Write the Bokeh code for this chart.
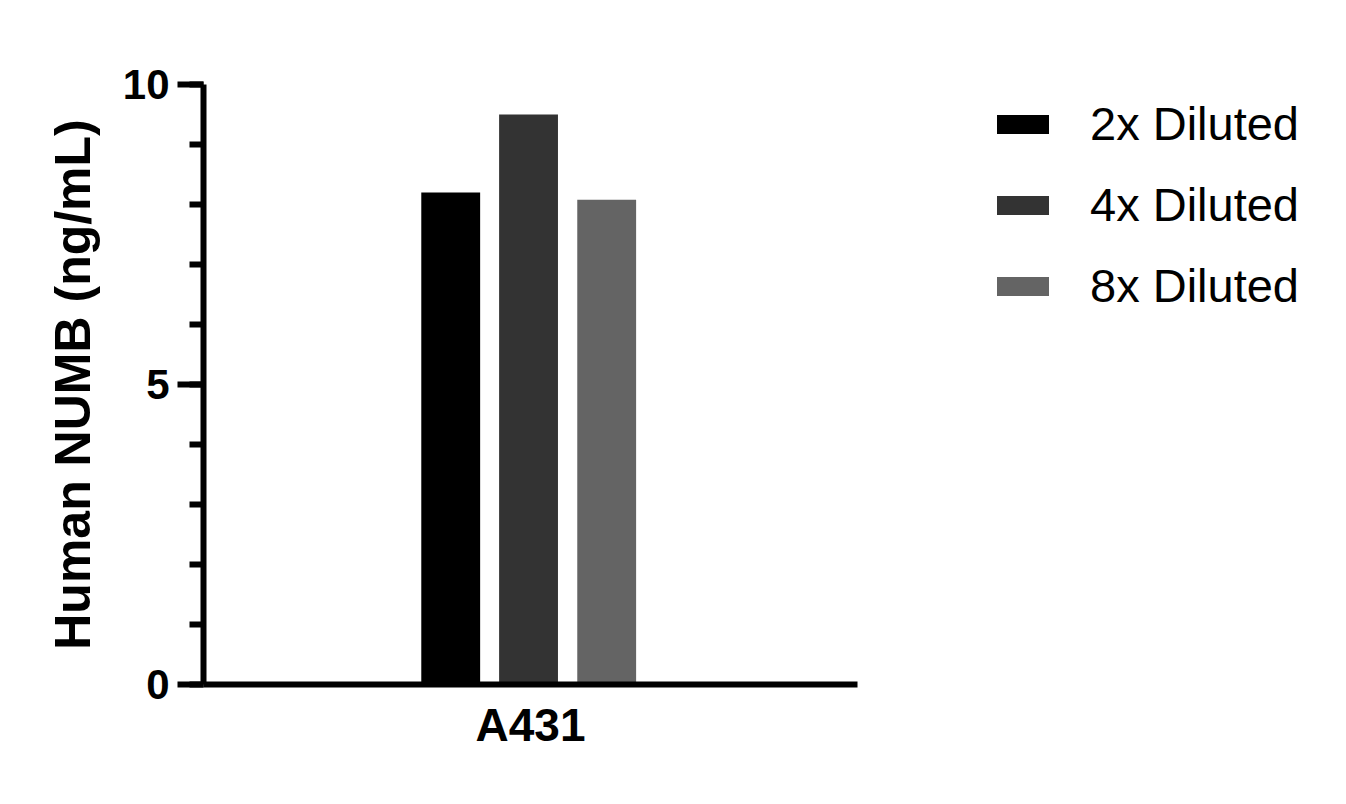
from bokeh.plotting import figure
from bokeh.models import (ColumnDataSource, FactorRange, Range1d, Legend, LegendItem,
                          SingleIntervalTicker)
from bokeh.transform import dodge
from bokeh.embed import file_html
from bokeh.resources import INLINE

categories = ["A431"]
series = ["2x Diluted", "4x Diluted", "8x Diluted"]
values_2x = [8.2]
values_4x = [9.5]
values_8x = [8.08]
colors = ["#000000", "#333333", "#646464"]
y_label = "Human NUMB (ng/mL)"

FONT = "Liberation Sans"

p = figure(x_range=FactorRange(factors=categories), y_range=Range1d(0, 10),
           frame_width=654, frame_height=600,
           min_border_left=203, min_border_top=84, min_border_right=470, min_border_bottom=110,
           output_backend="svg", toolbar_location=None, background_fill_color="white",
           border_fill_color="white")
p.outline_line_color = None
p.xgrid.visible = False
p.ygrid.visible = False

src = ColumnDataSource(dict(cat=categories, v2=values_2x, v4=values_4x, v8=values_8x))
offsets = [-0.122, -0.003, 0.1165]
renderers = []
for col, off, c in zip(["v2", "v4", "v8"], offsets, colors):
    r = p.vbar(x=dodge("cat", off, range=p.x_range), top=col, bottom=0, width=0.09,
               source=src, fill_color=c, line_color=None)
    renderers.append(r)

# y axis
ya = p.yaxis[0]
ya.ticker = SingleIntervalTicker(interval=5, num_minor_ticks=5)
ya.axis_line_width = 6
ya.major_tick_line_width = 6
ya.minor_tick_line_width = 6
ya.major_tick_out = 26
ya.major_tick_in = 0
ya.minor_tick_out = 14
ya.minor_tick_in = 0
ya.major_label_text_font = FONT
ya.major_label_text_font_style = "bold"
ya.major_label_text_font_size = "42px"
ya.major_label_text_color = "black"
ya.major_label_standoff = 8
ya.axis_label = y_label
ya.axis_label_text_font = FONT
ya.axis_label_text_font_style = "bold"
ya.axis_label_text_font_size = "50px"
ya.axis_label_text_color = "black"
ya.axis_label_standoff = 19

# x axis
xa = p.xaxis[0]
xa.axis_line_width = 6
xa.major_tick_line_color = None
xa.major_tick_out = 0
xa.major_tick_in = 0
xa.minor_tick_line_color = None
xa.major_label_text_font = FONT
xa.major_label_text_font_style = "bold"
xa.major_label_text_font_size = "46px"
xa.major_label_text_color = "black"
xa.major_label_standoff = 14

legend = Legend(items=[LegendItem(label=s, renderers=[r]) for s, r in zip(series, renderers)],
                location=(133, 371), orientation="vertical",
                glyph_width=65, glyph_height=24, label_standoff=35,
                label_text_font=FONT, label_text_font_size="47px", label_text_color="black",
                spacing=26, padding=0, margin=0,
                border_line_color=None, background_fill_alpha=0)
p.add_layout(legend, "right")

open("out.html", "w").write(file_html(p, INLINE))
